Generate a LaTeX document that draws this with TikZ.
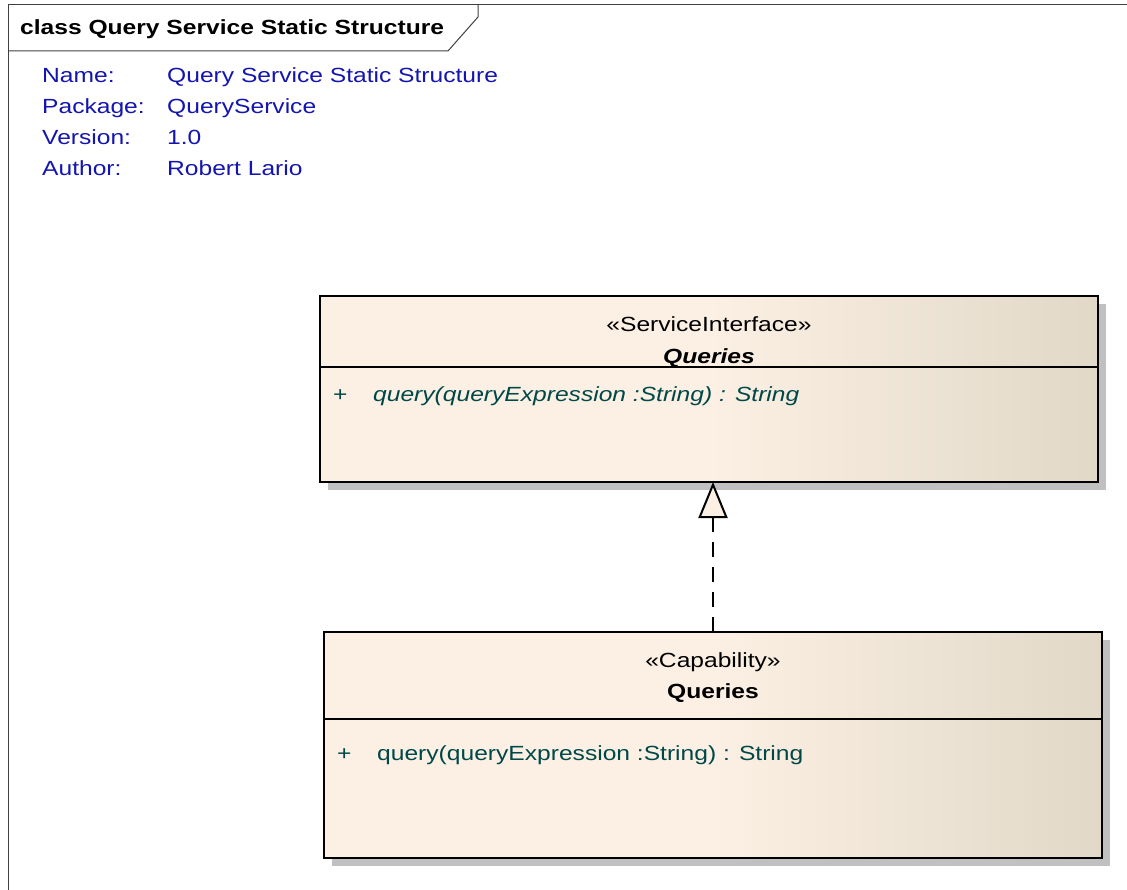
\documentclass[tikz,border=0pt]{standalone}
\usepackage{fontspec}
\setmainfont{Liberation Sans}[FakeStretch=1.2]
\usetikzlibrary{arrows.meta,positioning,shadows}
\definecolor{eacream}{RGB}{251,240,227}
\definecolor{eatan}{RGB}{226,216,200}
\definecolor{eablue}{RGB}{20,20,175}
\definecolor{eateal}{RGB}{0,72,72}
\definecolor{eashadow}{RGB}{192,192,192}

\begin{document}
\begin{tikzpicture}[
    x=1pt, y=-1pt,
    font=\fontsize{20.5}{24}\selectfont,
    classbox/.style={draw=black, line width=2pt, left color=eacream, right color=eatan, middle color=eacream, minimum width=778pt, inner sep=0pt, outer sep=0pt, drop shadow={shadow xshift=8pt, shadow yshift=-8pt, fill=eashadow, opacity=1}},
    metakey/.style={anchor=base west, inner sep=0pt, text=eablue},
    stereo/.style={anchor=base, inner sep=0pt},
    opline/.style={anchor=base west, inner sep=0pt, text=eateal},
    realize/.style={draw=black, line width=2pt, dash pattern=on 15pt off 10pt, -{Triangle[open, fill=eacream, length=36pt, width=29pt, line width=2pt]}}
]

    % frame of the diagram
    \useasboundingbox (0,0) rectangle (1127,890);
    \draw[draw=black!75, line width=1pt] (8,5) rectangle (1140,900);
    \draw[draw=black!75, line width=1pt] (8,51) -- (448,51) -- (478,17) -- (478,5);
    \node[anchor=base west, inner sep=0pt, font=\fontsize{20.5}{24}\selectfont\bfseries] (title) at (20,35) {class Query Service Static Structure};

    \node[metakey] (namekey) at (42,83) {Name:};
    \node[metakey] (namevalue) at (167,83) {Query Service Static Structure};
    \node[metakey] (pkgkey) at (42,114) {Package:};
    \node[metakey] (pkgvalue) at (167,114) {QueryService};
    \node[metakey] (verkey) at (42,145) {Version:};
    \node[metakey] (vervalue) at (167,145) {1.0};
    \node[metakey] (authkey) at (42,176) {Author:};
    \node[metakey] (authvalue) at (167,176) {Robert Lario};

    % service interface
    \node[classbox, anchor=north west, minimum height=71pt] (svchead) at (320,296) {};
    \node[classbox, minimum height=115pt, below=0pt of svchead] (svcbody) {};
    \node[stereo] (svcstereo) at (709,332) {«ServiceInterface»};
    \node[stereo, font=\fontsize{20.5}{24}\selectfont\bfseries\itshape] (svcname) at (709,363) {Queries};
    \node[opline] (svcplus) at (333,402) {+};
    \node[opline, font=\fontsize{20.5}{24}\selectfont\itshape] (svcop) at (373,402) {query(queryExpression :String) : String};

    % capability
    \node[classbox, anchor=north west, minimum height=87pt] (caphead) at (324,632) {};
    \node[classbox, minimum height=139pt, below=0pt of caphead] (capbody) {};
    \node[stereo] (capstereo) at (713,667) {«Capability»};
    \node[stereo, font=\fontsize{20.5}{24}\selectfont\bfseries] (capname) at (713,698) {Queries};
    \node[opline] (capplus) at (337,760) {+};
    \node[opline] (capop) at (377,760) {query(queryExpression :String) : String};

    \draw[realize] (caphead.north) -- (caphead.north |- svcbody.south);

\end{tikzpicture}
\end{document}
